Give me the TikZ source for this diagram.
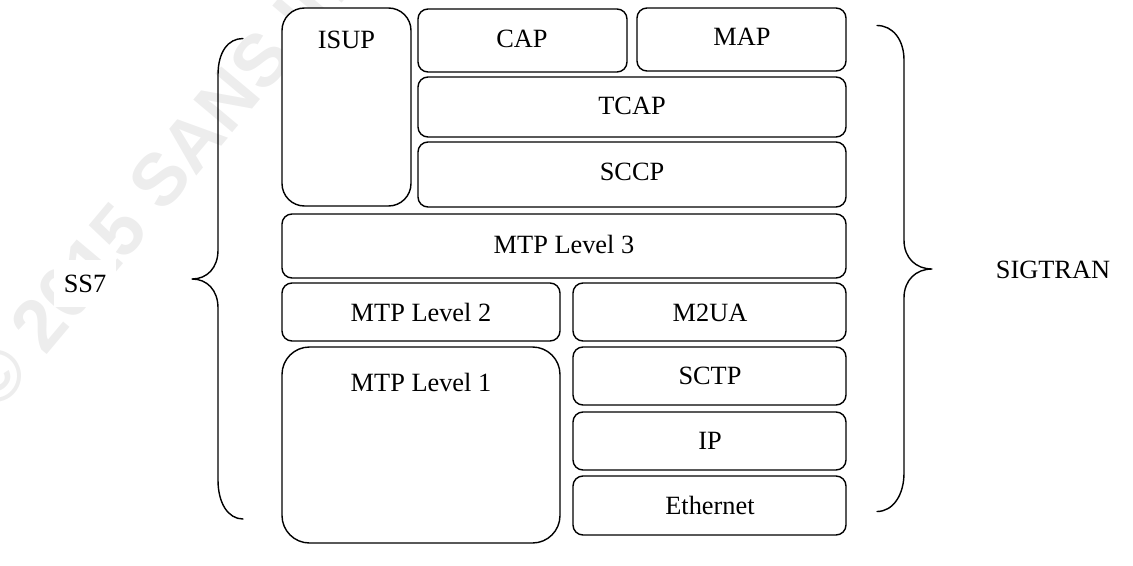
\documentclass[tikz,border=0pt]{standalone}
\usepackage{fontspec}
\setmainfont{Liberation Serif}
\setsansfont{Liberation Sans}
\begin{document}
\begin{tikzpicture}[x=0.02cm, y=-0.02cm, line join=round, line cap=round, font=\fontsize{15}{18}\selectfont,
		layer/.style={draw, line width=0.8pt, fill=white, rounded corners=0.2cm},
		lbl/.style={anchor=base, inner sep=0pt},
		brace/.style={draw, line width=0.8pt}]
	\useasboundingbox (0,0) rectangle (1133,565);
	% watermark
	\node [rotate=50, anchor=base west, inner sep=0pt, text=black!7, font=\fontsize{42}{42}\selectfont\sffamily\bfseries] (mark) at (-3,414) {© 2015 SANS Institute};
	% SS7 stack
	\draw [layer, rounded corners=0.45cm] (282,8) rectangle (411,206);
	\draw [layer] (418,9) rectangle (627,72);
	\draw [layer] (637,8) rectangle (846,71);
	\draw [layer] (418,77) rectangle (846,137);
	\draw [layer] (418,142) rectangle (846,207);
	\draw [layer] (282,214) rectangle (846,278);
	\draw [layer] (282,283) rectangle (560,341);
	\draw [layer, rounded corners=0.55cm] (282,347) rectangle (560,543);
	% SIGTRAN stack
	\draw [layer] (573,283) rectangle (846,341);
	\draw [layer] (573,347) rectangle (846,405);
	\draw [layer] (573,412) rectangle (846,470);
	\draw [layer] (573,476) rectangle (846,535);
	\node [lbl] (isup) at (346.5,48) {ISUP};
	\node [lbl] (cap) at (522,47) {CAP};
	\node [lbl] (map) at (742,45) {MAP};
	\node [lbl] (tcap) at (632,114) {TCAP};
	\node [lbl] (sccp) at (632,180) {SCCP};
	\node [lbl] (mtpthree) at (564,253) {MTP Level 3};
	\node [lbl] (mtptwo) at (421,321) {MTP Level 2};
	\node [lbl] (mtpone) at (421,391) {MTP Level 1};
	\node [lbl] (mtwoua) at (710,321) {M2UA};
	\node [lbl] (sctp) at (710,384) {SCTP};
	\node [lbl] (ip) at (710,449) {IP};
	\node [lbl] (eth) at (710,514) {Ethernet};
	% braces
	\draw [brace] (243,38.5) .. controls (228,38.5) and (218,52) .. (218,75) -- (218,250)
		.. controls (218,268) and (207,279) .. (192,279) .. controls (207,279) and (218,290) .. (218,308)
		-- (218,480) .. controls (218,503) and (228,519) .. (243,519);
	\draw [brace] (877,25.5) .. controls (893,25.5) and (904,40) .. (904,60) -- (904,240)
		.. controls (904,258) and (916,269) .. (932,269) .. controls (916,269) and (904,280) .. (904,298)
		-- (904,473) .. controls (904,495) and (893,511.5) .. (877,511.5);
	\node [lbl, fill=white, inner xsep=0.2cm, inner ysep=0.3cm] (ss) at (85,292) {SS7};
	\node [lbl] (sigtran) at (1053,278) {SIGTRAN};
\end{tikzpicture}
\end{document}
